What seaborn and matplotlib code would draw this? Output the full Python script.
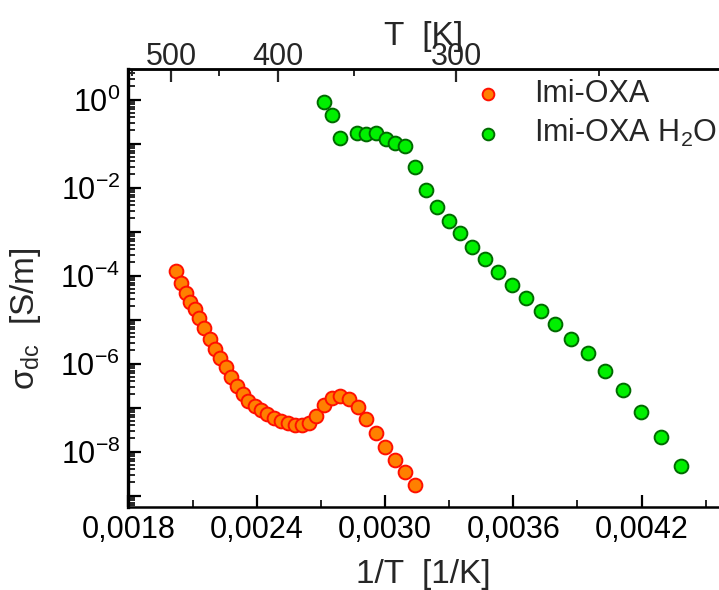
import numpy as np
import pandas as pd
import matplotlib
matplotlib.use("Agg")
import matplotlib.pyplot as plt
import matplotlib.ticker as mticker
import seaborn as sns

# 1/T [1/K] and sigma_dc [S/m] for the dry salt
inv_T_imi = [0.002023, 0.002046, 0.002068, 0.002089, 0.002110, 0.002132, 0.002155,
             0.002182, 0.002206, 0.002228, 0.002255, 0.002280, 0.002306, 0.002336,
             0.002361, 0.002392, 0.002420, 0.002450, 0.002481, 0.002512, 0.002545,
             0.002578, 0.002610, 0.002643, 0.002676, 0.002713, 0.002752, 0.002791,
             0.002831, 0.002873, 0.002911, 0.002957, 0.003000, 0.003045, 0.003094,
             0.003140]
sigma_imi = [1.30e-4, 6.71e-5, 3.98e-5, 2.56e-5, 1.72e-5, 1.11e-5, 6.38e-6,
             3.70e-6, 2.19e-6, 1.37e-6, 8.28e-7, 4.99e-7, 3.11e-7, 2.02e-7,
             1.44e-7, 1.09e-7, 8.73e-8, 7.08e-8, 5.93e-8, 4.99e-8, 4.42e-8,
             4.05e-8, 4.05e-8, 4.56e-8, 6.58e-8, 1.17e-7, 1.64e-7, 1.85e-7,
             1.60e-7, 1.05e-7, 5.45e-8, 2.62e-8, 1.30e-8, 6.58e-9, 3.51e-9,
             1.75e-9]

# 1/T [1/K] and sigma_dc [S/m] for the hydrated salt
inv_T_h2o = [0.002715, 0.002751, 0.002790, 0.002869, 0.002913, 0.002958, 0.003005,
             0.003048, 0.003094, 0.003140, 0.003192, 0.003243, 0.003298, 0.003352,
             0.003408, 0.003469, 0.003528, 0.003594, 0.003659, 0.003728, 0.003796,
             0.003871, 0.003951, 0.004030, 0.004112, 0.004199, 0.004291, 0.004383]
sigma_h2o = [0.887, 0.456, 0.135, 0.178, 0.166, 0.172, 0.130,
             0.102, 0.0887, 0.0295, 8.87e-3, 3.70e-3, 1.78e-3, 9.20e-4,
             4.56e-4, 2.36e-4, 1.21e-4, 6.24e-5, 3.16e-5, 1.58e-5, 7.98e-6,
             3.70e-6, 1.72e-6, 6.93e-7, 2.52e-7, 7.85e-8, 2.12e-8, 4.73e-9]

series_labels = ["Imi-OXA", r"Imi-OXA H$\mathregular{_2}$O"]
x_major_ticks = [0.0018, 0.0024, 0.0030, 0.0036, 0.0042]
x_minor_ticks = [0.0021, 0.0027, 0.0033, 0.0039, 0.0045]
T_major_ticks = [500, 400, 300]
T_minor_ticks = [550, 450, 350, 250]

sns.set_style("ticks")
plt.rcParams["font.family"] = ["Liberation Sans", "DejaVu Sans"]
plt.rcParams["mathtext.fontset"] = "custom"
plt.rcParams["mathtext.rm"] = "Liberation Sans"
plt.rcParams["mathtext.it"] = "Liberation Sans:italic"
plt.rcParams["mathtext.bf"] = "Liberation Sans:bold"

W, H = 719, 590
fig = plt.figure(figsize=(W / 100, H / 100), dpi=100)
left_px, right_px, top_px, bottom_px = 128.4, 719, 69.3, 507
ax = fig.add_axes([left_px / W, (H - bottom_px) / H,
                   (right_px - left_px) / W, (bottom_px - top_px) / H])

df_imi = pd.DataFrame({"invT": inv_T_imi, "sigma": sigma_imi})
df_h2o = pd.DataFrame({"invT": inv_T_h2o, "sigma": sigma_h2o})

sns.scatterplot(data=df_imi, x="invT", y="sigma", ax=ax, s=98,
                color="#FF8000", edgecolor="#FF1000", linewidth=1.4,
                label=series_labels[0], zorder=3)
sns.scatterplot(data=df_h2o, x="invT", y="sigma", ax=ax, s=98,
                color="#00F000", edgecolor="#006A00", linewidth=1.4,
                label=series_labels[1], zorder=3)

ax.set_yscale("log")
ax.set_xlim(0.0018, 0.0018 + (right_px - left_px) / 213833)
ax.set_ylim(10 ** -9.257, 10 ** 0.691)

fs_tick = 22
# bottom axis: decimal comma
ax.xaxis.set_major_locator(mticker.FixedLocator(x_major_ticks))
ax.xaxis.set_minor_locator(mticker.FixedLocator(x_minor_ticks))
ax.xaxis.set_major_formatter(mticker.FuncFormatter(lambda v, p: f"{v:.4f}".replace(".", ",")))

# left axis: every decade ticked, even decades labelled
ax.yaxis.set_major_locator(mticker.LogLocator(base=10, numticks=30))
ax.yaxis.set_minor_locator(mticker.LogLocator(base=10, subs=np.arange(2, 10), numticks=30))


def decade_label(v, pos):
    e = int(round(np.log10(v)))
    if e % 2:
        return ""
    return r"$\mathregular{10^{%d}}$" % e


ax.yaxis.set_major_formatter(mticker.FuncFormatter(decade_label))
ax.yaxis.set_minor_formatter(mticker.NullFormatter())

ax.tick_params(axis="both", which="major", direction="in", length=9, width=1.6,
               labelsize=fs_tick, colors="black")
ax.tick_params(axis="both", which="minor", direction="in", length=5, width=1.4)
ax.tick_params(axis="x", which="major", pad=6)
ax.tick_params(axis="y", which="major", pad=6)
ax.tick_params(top=False, right=False, which="both")

for name in ["left", "bottom", "top"]:
    ax.spines[name].set_linewidth(1.8)
    ax.spines[name].set_color("black")
ax.spines["left"].set_linewidth(2.4)
ax.spines["right"].set_visible(False)


def inv(v):
    v = np.asarray(v, dtype=float)
    out = np.full_like(v, np.inf)
    np.divide(1.0, v, out=out, where=v != 0)
    return out


top = ax.secondary_xaxis("top", functions=(inv, inv))
top.xaxis.set_major_locator(mticker.FixedLocator(T_major_ticks))
top.xaxis.set_minor_locator(mticker.FixedLocator(T_minor_ticks))
top.xaxis.set_major_formatter(mticker.FormatStrFormatter("%d"))
top.tick_params(which="major", direction="in", length=9, width=1.6, labelsize=fs_tick, pad=-2)
top.tick_params(which="minor", direction="in", length=5, width=1.4)
top.spines["top"].set_linewidth(1.8)
top.set_xlabel("T  [K]", fontsize=24, labelpad=-2)

ax.set_xlabel("1/T  [1/K]", fontsize=24, labelpad=10)
ax.set_ylabel(r"$\mathregular{\sigma_{dc}}$  [S/m]", fontsize=24)
ax.yaxis.set_label_coords(-0.145, 0.43)

leg = ax.legend(loc="upper left", bbox_to_anchor=(476 / W, (H - 79) / H),
                bbox_transform=fig.transFigure, frameon=False, fontsize=fs_tick,
                handlelength=0.8, handletextpad=1.1, borderpad=0, borderaxespad=0,
                labelspacing=0.25, markerscale=0.85)

fig.savefig("out.png", dpi=100)
